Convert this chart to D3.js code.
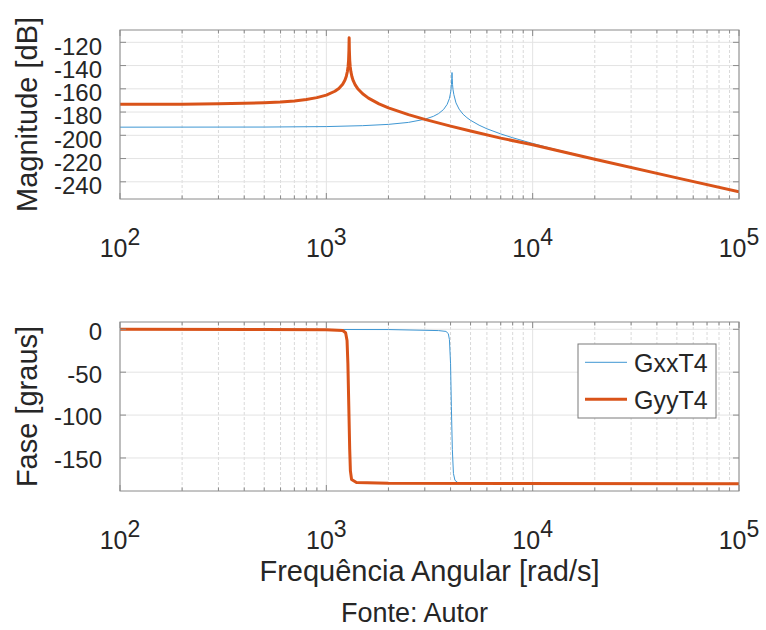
<!DOCTYPE html>
<html>
<head>
<meta charset="utf-8">
<script src="https://cdn.jsdelivr.net/npm/d3@7"></script>
<style>
  body { margin: 0; background: #fff; }
  text { font-family: "Liberation Sans", Arial, Helvetica, sans-serif; fill: #262626; }
</style>
</head>
<body>
<div id="chart"></div>
<script>
// frequencies in rad/s
var gxxMag = [[100,-193.0],[500,-192.9],[1000,-192.5],[1500,-191.7],[2000,-190.6],[2500,-188.9],[3000,-186.2],
  [3300,-183.7],[3500,-181.3],[3700,-177.8],[3850,-173.4],[3950,-168.3],[4010,-162.3],[4040,-156.4],[4055,-151],
  [4065,-146],[4075,-151],[4090,-156.4],[4110,-160.5],[4150,-165.0],[4250,-172.1],[4400,-177.5],[4600,-181.9],
  [4800,-184.8],[5000,-187.1],[5500,-191.3],[6000,-194.4],[7000,-198.8],[8000,-202.1],[10000,-207.0],
  [13000,-212.3],[20000,-220.4],[50000,-236.5],[100000,-248.6]]

var gyyMag = [[100,-173.35],[200,-173.2],[300,-172.9],[400,-172.5],[500,-172.0],[600,-171.3],[700,-170.4],
  [800,-169.2],[900,-167.6],[1000,-165.4],[1100,-162.1],[1150,-159.7],[1200,-156.0],[1230,-152.6],[1250,-149.1],
  [1265,-145.1],[1275,-140.7],[1282,-135.3],[1287,-126.7],[1290,-116],[1293,-126.9],[1298,-135.3],[1305,-140.7],
  [1315,-145.2],[1330,-149.4],[1350,-153.0],[1380,-156.6],[1420,-159.9],[1500,-164.3],[1600,-168.0],
  [1800,-172.9],[2000,-176.4],[2500,-182.2],[3000,-186.3],[4000,-192.1],[5000,-196.3],[7000,-202.4],
  [10000,-208.2],[13000,-212.9],[20000,-220.6],[50000,-236.6],[100000,-248.7]]

var gxxPhase = [[100,0],[2000,-0.3],[3500,-1.5],[3800,-2.5],[3900,-5],[3950,-12],[4000,-40],[4036,-90],
  [4080,-140],[4130,-168],[4200,-176],[4350,-179],[5000,-179.7],[10000,-179.9],[100000,-180]]

var gyyPhase = [[100,0],[500,-0.2],[1000,-0.5],[1200,-1.5],[1240,-4],[1260,-13],[1272,-40],[1285,-90],
  [1298,-140],[1308,-165],[1325,-175],[1400,-178.5],[2000,-179.6],[100000,-180]]

var magTicks = [-240, -220, -200, -180, -160, -140, -120]
var phaseTicks = [-150, -100, -50, 0]
var decades = [2, 3, 4, 5]

var seriesNames = ["GxxT4", "GyyT4"]
var seriesColors = ["#3f97d3", "#d95319"]
var seriesWidths = [1, 3]

var width = 766, height = 630
var svg = d3.select("#chart").append("svg")
  .attr("width", width)
  .attr("height", height)

svg.append("rect").attr("width", width).attr("height", height).attr("fill", "#fff")

var left = 120, right = 739
var x = d3.scaleLog().domain([1e2, 1e5]).range([left, right])

var majorX = decades.map(function(e) { return Math.pow(10, e) })
var minorX = []
majorX.slice(0, 3).forEach(function(d) {
  for (var k = 2; k <= 9; k++) minorX.push(k * d)
})

var panels = [
  { top: 30, bottom: 199, domain: [-254.8, -109.4], ticks: magTicks, label: "Magnitude [dB]", data: [gxxMag, gyyMag], dy: 4 },
  { top: 322, bottom: 491, domain: [-188.5, 8.5], ticks: phaseTicks, label: "Fase [graus]", data: [gxxPhase, gyyPhase], dy: 2 }
]

panels.forEach(function(p, pi) {
  var y = d3.scaleLinear().domain(p.domain).range([p.bottom, p.top])
  var g = svg.append("g")

  // grid
  g.append("g").selectAll("line").data(minorX).enter().append("line")
    .attr("x1", function(d) { return x(d) }).attr("x2", function(d) { return x(d) })
    .attr("y1", p.top).attr("y2", p.bottom)
    .attr("stroke", "#d9d9d9").attr("stroke-width", 1).attr("stroke-dasharray", "3,2")
  g.append("g").selectAll("line").data(majorX).enter().append("line")
    .attr("x1", function(d) { return x(d) }).attr("x2", function(d) { return x(d) })
    .attr("y1", p.top).attr("y2", p.bottom)
    .attr("stroke", "#e3e3e3").attr("stroke-width", 1)
  g.append("g").selectAll("line").data(p.ticks).enter().append("line")
    .attr("x1", left).attr("x2", right)
    .attr("y1", function(d) { return y(d) }).attr("y2", function(d) { return y(d) })
    .attr("stroke", "#e3e3e3").attr("stroke-width", 1)

  // curves
  var clipId = "clip" + pi
  svg.append("clipPath").attr("id", clipId).append("rect")
    .attr("x", left).attr("y", p.top).attr("width", right - left).attr("height", p.bottom - p.top)

  var line = d3.line()
    .x(function(d) { return x(d[0]) })
    .y(function(d) { return y(d[1]) })

  g.append("g").attr("clip-path", "url(#" + clipId + ")")
    .selectAll("path").data(p.data).enter().append("path")
    .attr("d", line)
    .attr("fill", "none")
    .attr("stroke", function(d, i) { return seriesColors[i] })
    .attr("stroke-width", function(d, i) { return seriesWidths[i] })
    .attr("stroke-linejoin", "round")

  // box
  g.append("rect")
    .attr("x", left).attr("y", p.top)
    .attr("width", right - left).attr("height", p.bottom - p.top)
    .attr("fill", "none").attr("stroke", "#8a8a8a").attr("stroke-width", 1)

  // inward ticks on all four sides
  var tickCol = "#8a8a8a"
  var xt = g.append("g")
  majorX.concat(minorX).forEach(function(d) {
    var len = majorX.indexOf(d) >= 0 ? 6 : 3.5
    xt.append("line").attr("x1", x(d)).attr("x2", x(d)).attr("y1", p.bottom).attr("y2", p.bottom - len).attr("stroke", tickCol)
    xt.append("line").attr("x1", x(d)).attr("x2", x(d)).attr("y1", p.top).attr("y2", p.top + len).attr("stroke", tickCol)
  })
  p.ticks.forEach(function(d) {
    xt.append("line").attr("x1", left).attr("x2", left + 6).attr("y1", y(d)).attr("y2", y(d)).attr("stroke", tickCol)
    xt.append("line").attr("x1", right).attr("x2", right - 6).attr("y1", y(d)).attr("y2", y(d)).attr("stroke", tickCol)
  })

  // y tick labels
  g.append("g").selectAll("text").data(p.ticks).enter().append("text")
    .attr("x", 102)
    .attr("y", function(d) { return y(d) + p.dy })
    .attr("dy", "0.35em")
    .attr("text-anchor", "end")
    .style("font-size", "24px")
    .text(function(d) { return d })

  // x tick labels as 10^n
  decades.forEach(function(e) {
    var t = g.append("text")
      .attr("x", x(Math.pow(10, e)))
      .attr("y", p.bottom + 58)
      .attr("text-anchor", "middle")
      .style("font-size", "25px")
    t.append("tspan").text("10")
    t.append("tspan").attr("dy", -12).style("font-size", "23px").text(e)
  })

  // y axis label
  g.append("text")
    .attr("transform", "translate(37," + (p.top + p.bottom) / 2 + ") rotate(-90)")
    .attr("text-anchor", "middle")
    .style("font-size", "29px")
    .text(p.label)
})

// x axis label and source line
svg.append("text")
  .attr("x", (left + right) / 2).attr("y", 581)
  .attr("text-anchor", "middle")
  .style("font-size", "29px")
  .text("Frequência Angular [rad/s]")

svg.append("text")
  .attr("x", 414.5).attr("y", 622)
  .attr("text-anchor", "middle")
  .style("font-size", "27px")
  .text("Fonte: Autor")

// legend
var legend = svg.append("g")
legend.append("rect")
  .attr("x", 578).attr("y", 344).attr("width", 138).attr("height", 74)
  .attr("fill", "#fff").attr("stroke", "#7a7a7a").attr("stroke-width", 1)

var legY = [362.3, 399.3]
seriesNames.forEach(function(name, i) {
  legend.append("line")
    .attr("x1", 585).attr("x2", 627).attr("y1", legY[i]).attr("y2", legY[i])
    .attr("stroke", seriesColors[i]).attr("stroke-width", seriesWidths[i])
  legend.append("text")
    .attr("x", 634).attr("y", legY[i] + 9.5)
    .style("font-size", "25px")
    .text(name)
})
</script>
</body>
</html>
